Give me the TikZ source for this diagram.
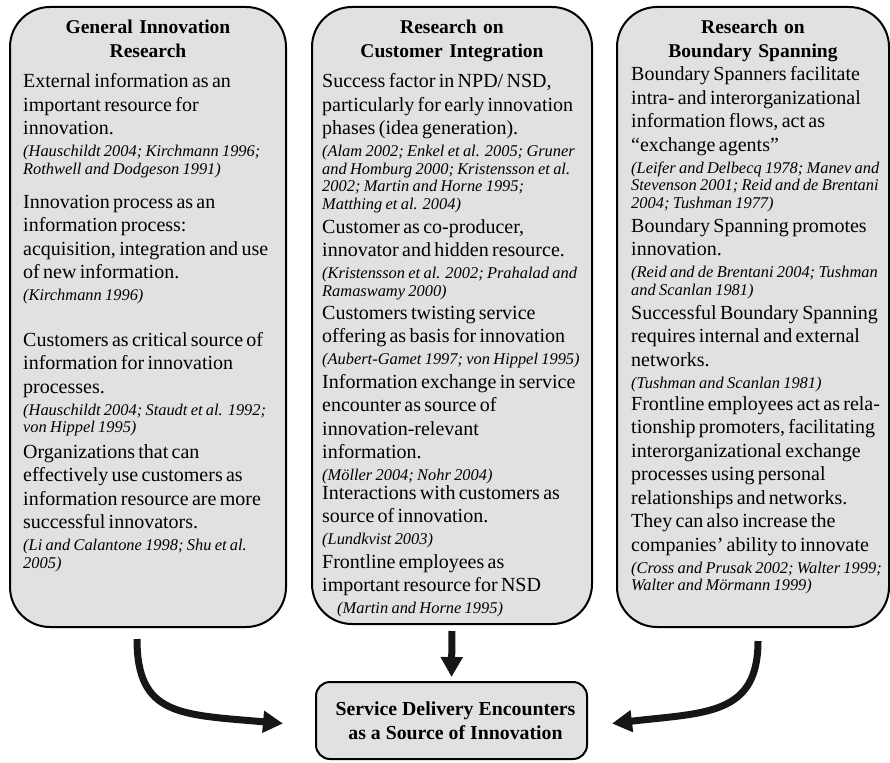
\documentclass[tikz,border=0pt]{standalone}
\usepackage{fontspec}
\setmainfont{Liberation Serif}
\usetikzlibrary{arrows.meta,positioning}

\definecolor{boxgray}{RGB}{224,225,227}
\definecolor{arrowblack}{RGB}{22,22,22}

% fonts for the statements and their sources
\newcommand{\claimfont}{\fontsize{20}{23.5}\selectfont}
\newcommand{\sourcefont}{\fontsize{16.4}{17.5}\selectfont\itshape}
\newcommand{\claimwithrefs}[2]{{\claimfont #1\par}\vspace{4.5pt}{\sourcefont #2\par}}

\begin{document}
\begin{tikzpicture}[x=1pt, y=-1pt,
    column/.style={draw, line width=2pt, fill=boxgray, rounded corners=40pt, minimum height=620pt},
    heading/.style={inner sep=0pt, anchor=base, text width=260pt, align=center, font=\bfseries\fontsize{19.5}{24}\selectfont},
    finding/.style={inner sep=0pt, anchor=base west, text width=300pt, align=left},
    flow/.style={line width=7pt, draw=arrowblack, -{Triangle[length=20pt,width=21pt]}}]

    \useasboundingbox (0,0) rectangle (890,762);

    % Draw the three research columns
    \node[column, minimum width=276pt] (inno) at (148,317) {};
    \node[column, minimum width=280pt, minimum height=617pt] (cust) at (452,315.5) {};
    \node[column, minimum width=272pt] (span) at (753,317) {};

    % Draw the target box
    \node[draw, line width=2pt, fill=boxgray, rounded corners=14pt, minimum width=271pt, minimum height=77pt,
          align=center, font=\bfseries\fontsize{19.8}{24}\selectfont] (enc) at (451.5,720.5)
          {\hspace*{8pt}Service Delivery Encounters\\\hspace*{8pt}as a Source of Innovation};

    % Headings
    \node[heading] (innohead) at (148,34) {General Innovation\\Research};
    \node[heading] (custhead) at (452,34) {Research on\\Customer Integration};
    \node[heading] (spanhead) at (753,34) {Research on\\Boundary Spanning};

    % General innovation research
    \node[finding] (inno1) at (23,88) {\claimwithrefs{External information as an\\important resource for\\innovation.}{(Hauschildt 2004; Kirchmann 1996;\\Rothwell and Dodgeson 1991)}};
    \node[finding] (inno2) at (23,208) {\claimwithrefs{Innovation process as an\\information process:\\acquisition, integration and use\\of new information.}{(Kirchmann 1996)}};
    \node[finding] (inno3) at (23,346) {\claimwithrefs{Customers as critical source of\\information for innovation\\processes.}{(Hauschildt 2004; Staudt et al. 1992;\\von Hippel 1995)}};
    \node[finding] (inno4) at (23,458) {\claimwithrefs{Organizations that can\\effectively use customers as\\information resource are more\\successful innovators.}{(Li and Calantone 1998; Shu et al.\\2005)}};

    % Customer integration
    \node[finding] (cust1) at (322,88) {\claimwithrefs{Success factor in NPD/ NSD,\\particularly for early innovation\\phases (idea generation).}{(Alam 2002; Enkel et al. 2005; Gruner\\and Homburg 2000; Kristensson et al.\\2002; Martin and Horne 1995;\\Matthing et al. 2004)}};
    \node[finding] (cust2) at (322,233) {\claimwithrefs{Customer as co-producer,\\innovator and hidden resource.}{(Kristensson et al. 2002; Prahalad and\\Ramaswamy 2000)}};
    \node[finding] (cust3) at (322,319) {\claimwithrefs{Customers twisting service\\offering as basis for innovation}{(Aubert-Gamet 1997; von Hippel 1995)}};
    \node[finding] (cust4) at (322,388) {\claimwithrefs{Information exchange in service\\encounter as source of\\innovation-relevant\\information.}{(Möller 2004; Nohr 2004)}};
    \node[finding] (cust5) at (322,499) {\claimwithrefs{Interactions with customers as\\source of innovation.}{(Lundkvist 2003)}};
    \node[finding] (cust6) at (322,568) {\claimwithrefs{Frontline employees as\\important resource for NSD}{\hspace*{15pt}(Martin and Horne 1995)}};

    % Boundary spanning
    \node[finding] (span1) at (631,81) {\claimwithrefs{Boundary Spanners facilitate\\intra- and interorganizational\\information flows, act as\\“exchange agents”}{(Leifer and Delbecq 1978; Manev and\\Stevenson 2001; Reid and de Brentani\\2004; Tushman 1977)}};
    \node[finding] (span2) at (631,232) {\claimwithrefs{Boundary Spanning promotes\\innovation.}{(Reid and de Brentani 2004; Tushman\\and Scanlan 1981)}};
    \node[finding] (span3) at (631,319) {\claimwithrefs{Successful Boundary Spanning\\requires internal and external\\networks.}{(Tushman and Scanlan 1981)}};
    \node[finding] (span4) at (631,410) {\claimwithrefs{Frontline employees act as rela-\\tionship promoters, facilitating\\interorganizational exchange\\processes using personal\\relationships and networks.\\They can also increase the\\companies’ ability to innovate}{(Cross and Prusak 2002; Walter 1999;\\Walter and Mörmann 1999)}};

    % Draw arrows into the target box
    \draw[flow] ([shift={(-11,11)}]inno.south) .. controls +(0,77) and +(-103,-9) .. ([shift={(-32,3)}]enc.west);
    \draw[flow, shorten <=6pt, shorten >=4pt] (cust.south) -- (enc.north);
    \draw[flow] ([shift={(5,13)}]span.south) .. controls +(0,75) and +(93,-11) .. ([shift={(24,3)}]enc.east);
\end{tikzpicture}
\end{document}
